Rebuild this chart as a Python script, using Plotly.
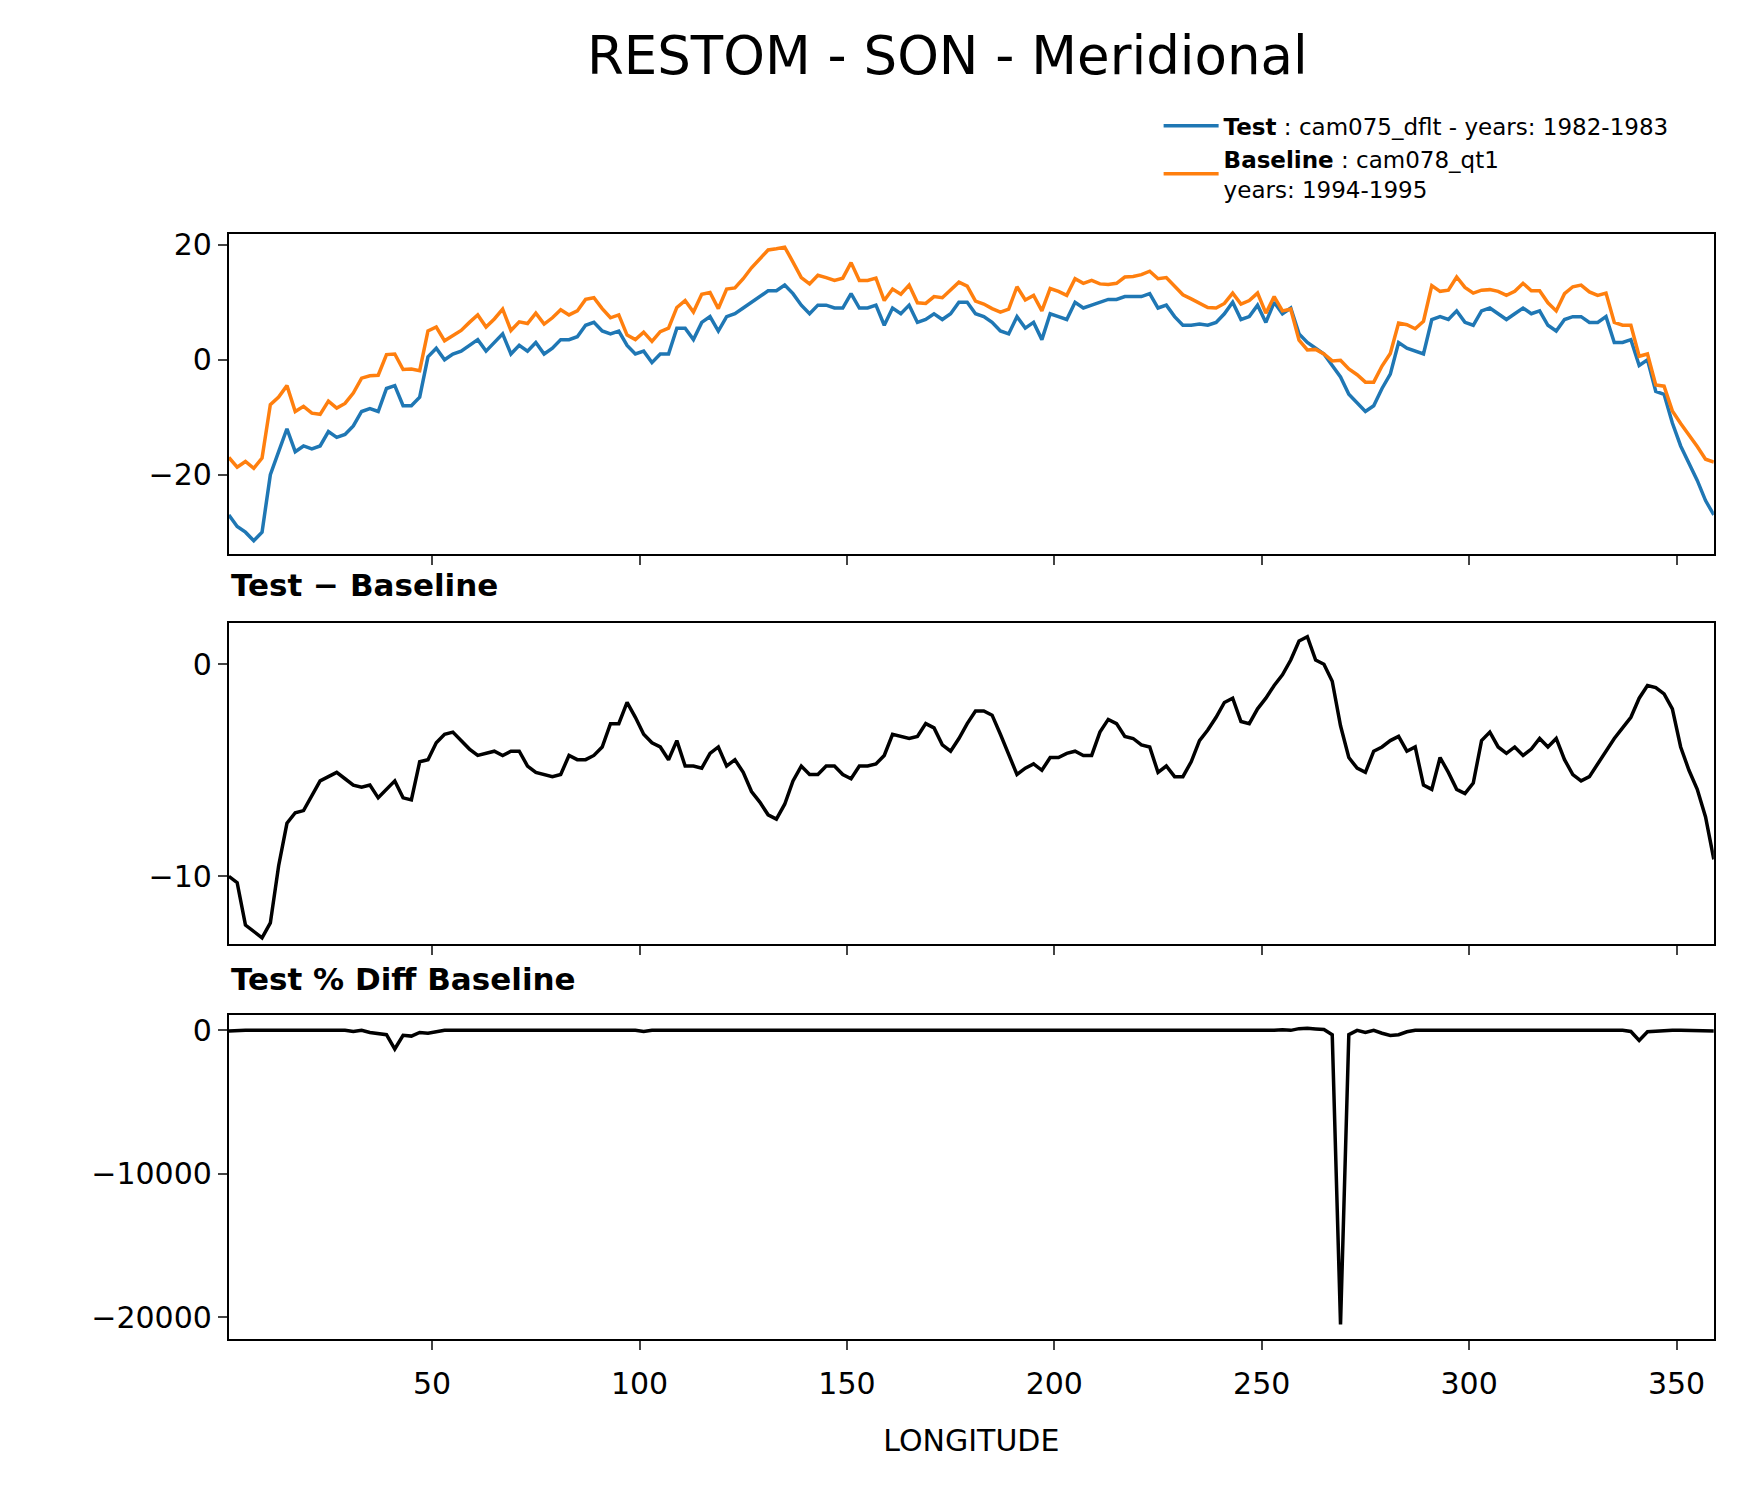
import numpy as np
import plotly.graph_objects as go

test = [-27,-29,-30,-31.5,-30,-20,-16,-12,-16,-15,
        -15.5,-15,-12.5,-13.5,-13,-11.5,-9,-8.5,-9,-5,
        -4.5,-8,-8,-6.5,0.5,2,0,1,1.5,2.5,
        3.5,1.5,3,4.5,1,2.5,1.5,3,1,2,
        3.5,3.5,4,6,6.5,5,4.5,5,2.5,1,
        1.5,-0.5,1,1,5.5,5.5,3.5,6.5,7.5,5,
        7.5,8,9,10,11,12,12,13,11.5,9.5,
        8,9.5,9.5,9,9,11.5,9,9,9.5,6,
        9,8,9.5,6.5,7,8,7,8,10,10,
        8,7.5,6.5,5,4.5,7.5,5.5,6.5,3.5,8,
        7.5,7,10,9,9.5,10,10.5,10.5,11,11,
        11,11.5,9,9.5,7.5,6,6,6.2,6,6.5,
        8,10,7,7.5,9.5,6.5,10,8,9,4.5,
        3,2,1,-1,-3,-6,-7.5,-9,-8,-5,
        -2.5,3,2,1.5,1,7,7.5,7,8.5,6.5,
        6,8.5,9,8,7,8,9,8,8.5,6,
        5,7,7.5,7.5,6.5,6.5,7.5,3,3,3.5,
        -1,0,-5.5,-6,-11,-15,-18,-21,-24.5,-27]

diff = [-10,-10.3,-12.3,-12.6,-12.9,-12.2,-9.5,-7.5,-7,-6.9,
        -6.2,-5.5,-5.3,-5.1,-5.4,-5.7,-5.8,-5.7,-6.3,-5.9,
        -5.5,-6.3,-6.4,-4.6,-4.5,-3.7,-3.3,-3.2,-3.6,-4,
        -4.3,-4.2,-4.1,-4.3,-4.1,-4.1,-4.8,-5.1,-5.2,-5.3,
        -5.2,-4.3,-4.5,-4.5,-4.3,-3.9,-2.8,-2.8,-1.8,-2.5,
        -3.3,-3.7,-3.9,-4.5,-3.6,-4.8,-4.8,-4.9,-4.2,-3.9,
        -4.8,-4.5,-5.1,-6,-6.5,-7.1,-7.3,-6.6,-5.5,-4.8,
        -5.2,-5.2,-4.8,-4.8,-5.2,-5.4,-4.8,-4.8,-4.7,-4.3,
        -3.3,-3.4,-3.5,-3.4,-2.8,-3,-3.8,-4.1,-3.5,-2.8,
        -2.2,-2.2,-2.4,-3.3,-4.3,-5.2,-4.9,-4.7,-5,-4.4,
        -4.4,-4.2,-4.1,-4.3,-4.3,-3.2,-2.6,-2.8,-3.4,-3.5,
        -3.8,-3.9,-5.1,-4.8,-5.3,-5.3,-4.6,-3.6,-3.1,-2.5,
        -1.8,-1.6,-2.7,-2.8,-2.1,-1.6,-1,-0.5,0.2,1.1,
        1.3,0.2,0,-0.8,-2.9,-4.4,-4.9,-5.1,-4.1,-3.9,
        -3.6,-3.4,-4.1,-3.9,-5.7,-5.9,-4.4,-5.1,-5.9,-6.1,
        -5.6,-3.6,-3.2,-3.9,-4.2,-3.9,-4.3,-4,-3.5,-3.9,
        -3.5,-4.5,-5.2,-5.5,-5.3,-4.7,-4.1,-3.5,-3,-2.5,
        -1.6,-1,-1.1,-1.4,-2.1,-3.9,-5,-5.9,-7.2,-9.2]

lon = list(range(1, 360, 2))
baseline = [t - d for t, d in zip(test, diff)]

# percent difference: near zero everywhere except readings below
pct_lon = [1,31,35,37,39,41,43,45,47,49,51,101,131,181,231,255,259,261,263,265,267,269,271,275,279,281,283,285,301,339,341,343,345,359]
pct_val = [-50,-80,-150,-250,-300,-1300,-350,-400,-150,-200,-100,-80,-50,-20,-30,50,120,150,100,60,-300,-20500,-300,-150,-200,-350,-300,-100,-60,-80,-700,-100,-60,-50]
pct = [0.0]*len(lon)
for L, v in zip(pct_lon, pct_val):
    pct[lon.index(L)] = v

FONT = "DejaVu Sans"
fig = go.Figure()
fig.add_trace(go.Scatter(x=lon, y=test, mode="lines", line=dict(color="#1f77b4", width=3.5),
                         name="<b>Test</b> : cam075_dflt - years: 1982-1983", xaxis="x", yaxis="y"))
fig.add_trace(go.Scatter(x=lon, y=baseline, mode="lines", line=dict(color="#ff7f0e", width=3.5),
                         name="<b>Baseline</b> : cam078_qt1<br>years: 1994-1995", xaxis="x", yaxis="y"))
fig.add_trace(go.Scatter(x=lon, y=diff, mode="lines", line=dict(color="black", width=3.5),
                         showlegend=False, xaxis="x2", yaxis="y2"))
fig.add_trace(go.Scatter(x=lon, y=pct, mode="lines", line=dict(color="black", width=3.5),
                         showlegend=False, xaxis="x3", yaxis="y3"))

ax = dict(range=[1, 359], tickvals=[50,100,150,200,250,300,350], ticks="outside", ticklen=9,
          tickwidth=2, showline=True, linecolor="black", linewidth=2, mirror=True,
          showgrid=False, zeroline=False, domain=[0.1265, 0.977], ticklabelstandoff=8,
          tickfont=dict(size=30, family=FONT, color="black"))
ay = dict(ticks="outside", ticklen=9, tickwidth=2, showline=True, linecolor="black", linewidth=2,
          mirror=True, showgrid=False, zeroline=False, tickfont=dict(size=30, family=FONT, color="black"))

fig.update_layout(
    width=1746, height=1496, paper_bgcolor="white", plot_bgcolor="white",
    margin=dict(l=0, r=0, t=0, b=0),
    font=dict(family=FONT, color="black"),
    title=dict(text="RESTOM - SON - Meridional", x=0.538, xanchor="center", y=0.968, yanchor="middle",
               font=dict(size=53, family=FONT, color="black")),
    xaxis=dict(ax, anchor="y", showticklabels=False),
    xaxis2=dict(ax, anchor="y2", showticklabels=False),
    xaxis3=dict(ax, anchor="y3", title=dict(text="LONGITUDE", font=dict(size=30, family=FONT), standoff=30)),
    yaxis=dict(ay, domain=[0.638, 0.853], range=[-33.8, 21.9], tickvals=[-20, 0, 20]),
    yaxis2=dict(ay, domain=[0.376, 0.592], range=[-13.2, 1.97], tickvals=[-10, 0]),
    yaxis3=dict(ay, domain=[0.111, 0.3285], range=[-21500, 1080], tickvals=[-20000, -10000, 0],
                ticktext=["−20000", "−10000", "0"]),
    legend=dict(x=0.659, y=0.94, xanchor="left", yanchor="top", bgcolor="rgba(0,0,0,0)",
                font=dict(size=23, family=FONT), tracegroupgap=16, itemwidth=55),
    annotations=[
        dict(text="<b>Test − Baseline</b>", x=0.1265, y=0.604, xref="paper", yref="paper",
             xanchor="left", yanchor="bottom", showarrow=False, font=dict(size=31, family=FONT)),
        dict(text="<b>Test % Diff Baseline</b>", x=0.1265, y=0.339, xref="paper", yref="paper",
             xanchor="left", yanchor="bottom", showarrow=False, font=dict(size=31, family=FONT)),
    ],
)
fig.write_html("out.html")
